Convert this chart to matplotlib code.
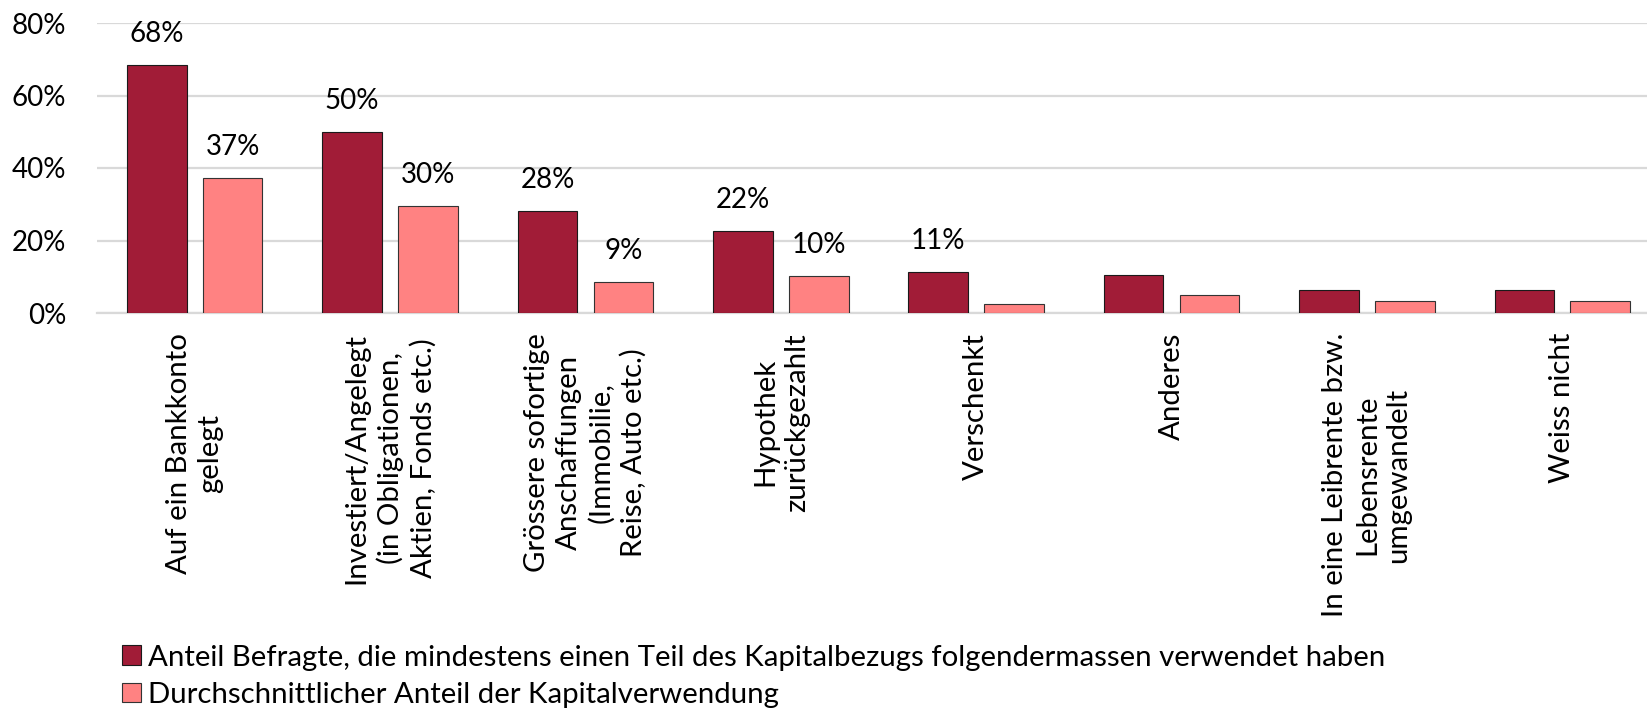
import numpy as np
import matplotlib
matplotlib.use("Agg")
import matplotlib.pyplot as plt
from matplotlib.patches import Patch

# Kapitalverwendung (values in %)
categories = [
    "Auf ein Bankkonto\ngelegt",
    "Investiert/Angelegt\n(in Obligationen,\nAktien, Fonds etc.)",
    "Grössere sofortige\nAnschaffungen\n(Immobilie,\nReise, Auto etc.)",
    "Hypothek\nzurückgezahlt",
    "Verschenkt",
    "Anderes",
    "In eine Leibrente bzw.\nLebensrente\numgewandelt",
    "Weiss nicht",
]
anteil_befragte = [68.4, 50.0, 28.1, 22.5, 11.2, 10.6, 6.3, 6.3]
anteil_kapital = [37.2, 29.5, 8.6, 10.1, 2.6, 5.1, 3.4, 3.4]
labels_befragte = ["68%", "50%", "28%", "22%", "11%", None, None, None]
labels_kapital = ["37%", "30%", "9%", "10%", None, None, None, None]
series_names = [
    "Anteil Befragte, die mindestens einen Teil des Kapitalbezugs folgendermassen verwendet haben",
    "Durchschnittlicher Anteil der Kapitalverwendung",
]
yticks = [0, 20, 40, 60, 80]

DARK = "#A11C37"
LIGHT = "#FF8282"
FONT = "Lato"
FS_TICK = 20
FS_LAB = 20
FS_CAT = 21.2

plt.rcParams["font.family"] = [FONT, "DejaVu Sans"]

fig = plt.figure(figsize=(16.47, 7.11), dpi=100)
ax = fig.add_axes([97 / 1647, 1 - 313 / 711, 1563 / 1647, 290 / 711])

x = np.arange(len(categories))
w = 0.305
off = 0.194

b1 = ax.bar(x - off, anteil_befragte, w, color=DARK, edgecolor="#1a1a1a", linewidth=0.8, zorder=3)
b2 = ax.bar(x + off, anteil_kapital, w, color=LIGHT, edgecolor="#333333", linewidth=0.8, zorder=3)

for bars, labs in ((b1, labels_befragte), (b2, labels_kapital)):
    for rect, lab in zip(bars, labs):
        if lab:
            ax.annotate(lab, (rect.get_x() + rect.get_width() / 2, rect.get_height()),
                        xytext=(0, 13), textcoords="offset points",
                        ha="center", va="bottom", fontsize=FS_LAB)

ax.set_xlim(-0.5, len(categories) - 0.5)
ax.set_ylim(0, 80)
ax.set_yticks(yticks)
ax.set_yticklabels([f"{t}%" for t in yticks], fontsize=FS_TICK)
ax.yaxis.grid(True, color="#D9D9D9", linewidth=1.6, zorder=0)
ax.set_axisbelow(True)
for s in ["top", "right", "left"]:
    ax.spines[s].set_visible(False)
ax.spines["bottom"].set_color("#D9D9D9")
ax.spines["bottom"].set_linewidth(1.6)
ax.tick_params(axis="y", length=0, pad=22)
ax.tick_params(axis="x", length=0)
ax.set_xticks(x)
ax.set_xticklabels([])

for xi, cat in zip(x, categories):
    ax.text(xi, -5.5, cat, rotation=90, ha="center", va="top",
            multialignment="center", fontsize=FS_CAT, linespacing=1.27)

handles = [Patch(facecolor=DARK, edgecolor="#1a1a1a", linewidth=0.8),
           Patch(facecolor=LIGHT, edgecolor="#333333", linewidth=0.8)]
fig.legend(handles, series_names, loc="lower left", bbox_to_anchor=(110 / 1647, -0.012),
           frameon=False, fontsize=FS_CAT, handlelength=0.65, handleheight=0.65,
           handletextpad=0.25, labelspacing=0.38, borderaxespad=0)

fig.savefig("out.png", dpi=100)
